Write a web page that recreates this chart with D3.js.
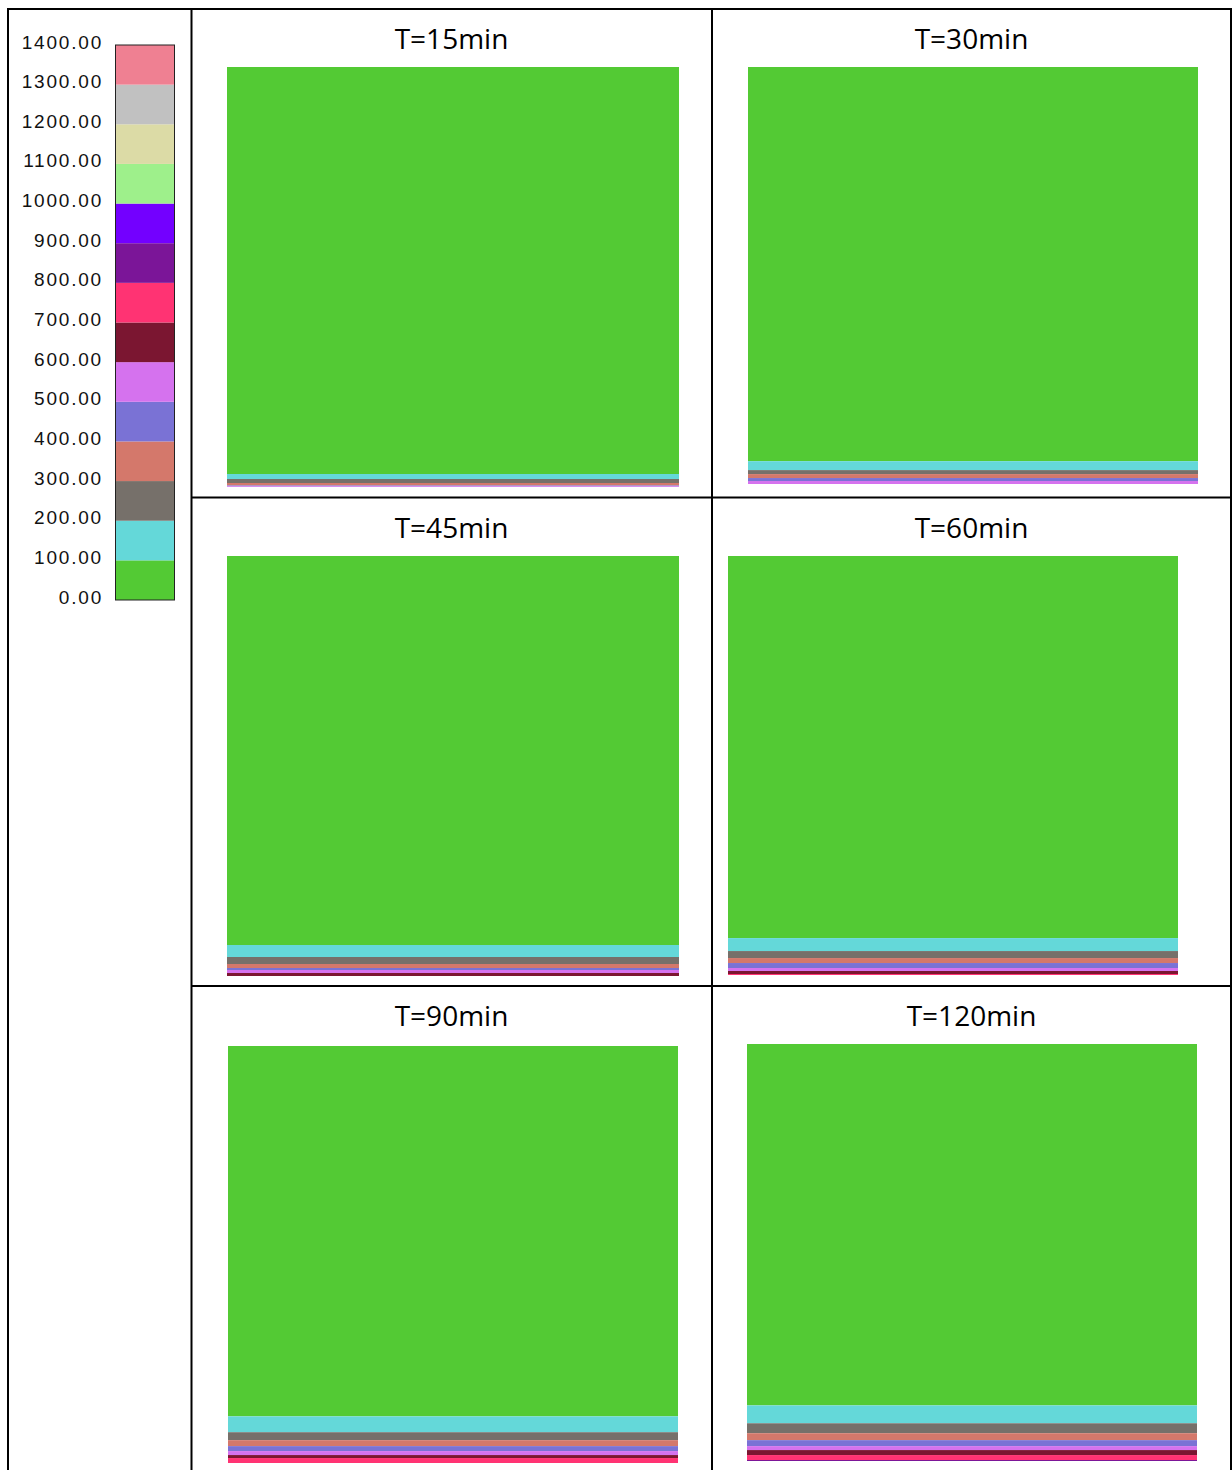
<!DOCTYPE html>
<html>
<head>
<meta charset="utf-8">
<script src="https://cdn.jsdelivr.net/npm/d3@7"></script>
<style>
  html, body { margin: 0; padding: 0; background: #fff; }
  svg { display: block; }
</style>
</head>
<body>
<svg id="chart" width="1232" height="1470"></svg>
<script>
// ---------------- DATA ----------------
// Temperature class boundaries (°C) and legend tick labels
const tempBreaks = [0, 100, 200, 300, 400, 500, 600, 700, 800, 900, 1000, 1100, 1200, 1300, 1400];
const tickLabels = ["0.00", "100.00", "200.00", "300.00", "400.00", "500.00", "600.00", "700.00",
                    "800.00", "900.00", "1000.00", "1100.00", "1200.00", "1300.00", "1400.00"];
// Colour of each 100 °C class, from 0-100 up to 1300-1400
const classColors = ["#53ca34", "#64d8d9", "#76706a", "#d4786b", "#7a72d5", "#d572ee", "#7b1631",
                     "#ff3373", "#7b1598", "#7300ff", "#9ef08b", "#dcdba6", "#c1c1c1", "#ef8092"];
// Panel titles (exposure time)
const panelTitles = ["T=15min", "T=30min", "T=45min", "T=60min", "T=90min", "T=120min"];
// Slab depth (units) shown in each panel
const slabDepth = 420;
// Depth of each isotherm (100, 200, 300 ... °C) measured from the exposed (bottom) face
const iso15  = [13, 8, 4, 1.5, 0.7];
const iso30  = [23, 14, 10, 6, 3];
const iso45  = [31, 19, 12, 8, 6, 3];
const iso60  = [37, 24, 17, 12, 7, 4, 1];
const iso90  = [47, 31, 23, 17, 12, 8, 5];
const iso120 = [56, 38, 28, 21, 15, 11, 6, 1];
const isotherms = [iso15, iso30, iso45, iso60, iso90, iso120];

// ---------------- LAYOUT ----------------
const svg = d3.select("#chart");
const W = 1232, H = 1470;
const panelBoxes = [
  {x0: 227, x1: 679,  y0: 67,   y1: 487,  cx: 451.5, ty: 42},
  {x0: 748, x1: 1198, y0: 67,   y1: 484,  cx: 971.5, ty: 42},
  {x0: 227, x1: 679,  y0: 556,  y1: 976,  cx: 451.5, ty: 531},
  {x0: 728, x1: 1178, y0: 556,  y1: 975,  cx: 971.5, ty: 531},
  {x0: 228, x1: 678,  y0: 1046, y1: 1463, cx: 451.5, ty: 1019},
  {x0: 747, x1: 1197, y0: 1044, y1: 1461, cx: 971.5, ty: 1019}
];

// ---------------- TABLE GRID ----------------
const grid = svg.append("g").attr("stroke", "#000").attr("stroke-width", 2);
grid.append("line").attr("x1", 8).attr("x2", 8).attr("y1", 8).attr("y2", H);
grid.append("line").attr("x1", 191.5).attr("x2", 191.5).attr("y1", 8).attr("y2", H);
grid.append("line").attr("x1", 712).attr("x2", 712).attr("y1", 8).attr("y2", H);
grid.append("line").attr("x1", 1231).attr("x2", 1231).attr("y1", 8).attr("y2", H);
grid.append("line").attr("x1", 7).attr("x2", W).attr("y1", 9).attr("y2", 9);
grid.append("line").attr("x1", 191).attr("x2", W).attr("y1", 497.5).attr("y2", 497.5);
grid.append("line").attr("x1", 191).attr("x2", W).attr("y1", 986).attr("y2", 986);

// ---------------- LEGEND ----------------
const legendY = d3.scaleLinear().domain([0, 1400]).range([600, 45]);
const legend = svg.append("g");
legend.selectAll("rect.cls")
  .data(classColors)
  .join("rect")
  .attr("class", "cls")
  .attr("x", 115.5)
  .attr("width", 59)
  .attr("y", (d, i) => legendY(tempBreaks[i + 1]))
  .attr("height", (d, i) => legendY(tempBreaks[i]) - legendY(tempBreaks[i + 1]))
  .attr("fill", d => d);
legend.append("rect")
  .attr("x", 115.5).attr("y", legendY(1400))
  .attr("width", 59).attr("height", legendY(0) - legendY(1400))
  .attr("fill", "none").attr("stroke", "#222").attr("stroke-width", 1);
legend.selectAll("text")
  .data(tickLabels)
  .join("text")
  .attr("x", 103)
  .attr("y", (d, i) => legendY(tempBreaks[i]) - 1.5)
  .attr("text-anchor", "end")
  .attr("font-family", "'Liberation Sans', Arial, sans-serif")
  .attr("font-size", 19)
  .attr("letter-spacing", 1.8)
  .attr("dominant-baseline", "middle")
  .attr("fill", "#111")
  .text(d => d);

// ---------------- PANELS ----------------
panelBoxes.forEach((box, p) => {
  const g = svg.append("g");
  const x = d3.scaleLinear().domain([0, 1]).range([box.x0, box.x1]);
  const y = d3.scaleLinear().domain([0, slabDepth]).range([box.y1, box.y0]);
  const iso = isotherms[p];
  // bands: class k spans depth [iso[k] (or 0), iso[k-1] (or slab)]
  const bands = [];
  for (let k = 0; k <= iso.length; k++) {
    const top = k === 0 ? slabDepth : iso[k - 1];
    const bot = k === iso.length ? 0 : iso[k];
    bands.push({k, top, bot});
  }
  g.selectAll("rect")
    .data(bands)
    .join("rect")
    .attr("x", x(0))
    .attr("width", x(1) - x(0))
    .attr("y", d => y(d.top))
    .attr("height", d => y(d.bot) - y(d.top))
    .attr("fill", d => classColors[d.k]);
  g.append("text")
    .attr("x", box.cx)
    .attr("y", box.ty)
    .attr("text-anchor", "middle")
    .attr("dominant-baseline", "middle")
    .attr("font-family", "'Open Sans', 'Noto Sans', sans-serif")
    .attr("font-size", 28)
    .attr("fill", "#000")
    .text(panelTitles[p]);
});
</script>
</body>
</html>
